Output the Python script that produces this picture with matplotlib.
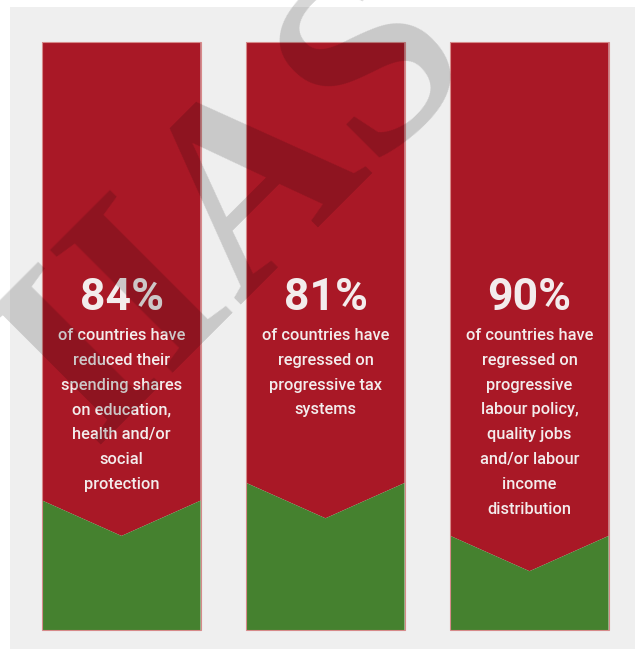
import matplotlib.pyplot as plt
from matplotlib.patches import Polygon, Rectangle

# share of countries (%) - red part ends at chevron tip
shares = [84, 81, 90]
headlines = ["84%", "81%", "90%"]
descriptions = [
    ["of countries have", "reduced their", "spending shares", "on education,",
     "health and/or", "social", "protection"],
    ["of countries have", "regressed on", "progressive tax", "systems"],
    ["of countries have", "regressed on", "progressive", "labour policy,",
     "quality jobs", "and/or labour", "income", "distribution"],
]

RED = "#a91826"
GREEN = "#45812f"
BG = "#efefef"
TXT = "#f3ecec"
width = 0.775
notch = 6.0

fig = plt.figure(figsize=(6.35, 6.49), dpi=100, facecolor="white")
fig.patches.append(Rectangle((10 / 635, 0), 1, 1 - 7 / 649, transform=fig.transFigure,
                             facecolor=BG, edgecolor="none", zorder=-5))

ax = fig.add_axes([0, 0, 1, 1])
ax.set_facecolor("none")
ax.set_xlim(-121.5 / 204, (635 - 121.5) / 204)
ax.set_ylim(-19 / 5.88, 100 + 42 / 5.88)
ax.axis("off")

fonts = ["Roboto", "DejaVu Sans"]

for i, v in enumerate(shares):
    x0, x1 = i - width / 2, i + width / 2
    tip = 100 - v
    side = tip + notch
    ax.add_patch(Polygon([(x0, 100), (x1, 100), (x1, side), (i, tip), (x0, side)],
                         closed=True, facecolor=RED, edgecolor="none", zorder=2))
    ax.add_patch(Polygon([(x0, 0), (x1, 0), (x1, side), (i, tip), (x0, side)],
                         closed=True, facecolor=GREEN, edgecolor="none", zorder=2))
    ax.add_patch(Rectangle((x0, 0), width, 100, facecolor="none",
                           edgecolor="#d68a8a", linewidth=0.8, zorder=3))
    ax.text(i, 56.4, headlines[i], ha="center", va="center", color=TXT,
            fontsize=32, fontweight="bold", family=fonts, zorder=4)
    for j, line in enumerate(descriptions[i]):
        ax.text(i, 50.1 - j * 4.22, line, ha="center", va="center", color=TXT,
                fontsize=11.8, fontweight="medium", family=fonts, zorder=4)

# diagonal watermark
ax.text(0.576, 71.7, "IIAS", rotation=45, rotation_mode="anchor",
        ha="center", va="center", fontsize=190, fontweight="bold",
        family="Liberation Serif", color="black", alpha=0.16, zorder=6)

fig.savefig("out.png", dpi=100, facecolor="white")
